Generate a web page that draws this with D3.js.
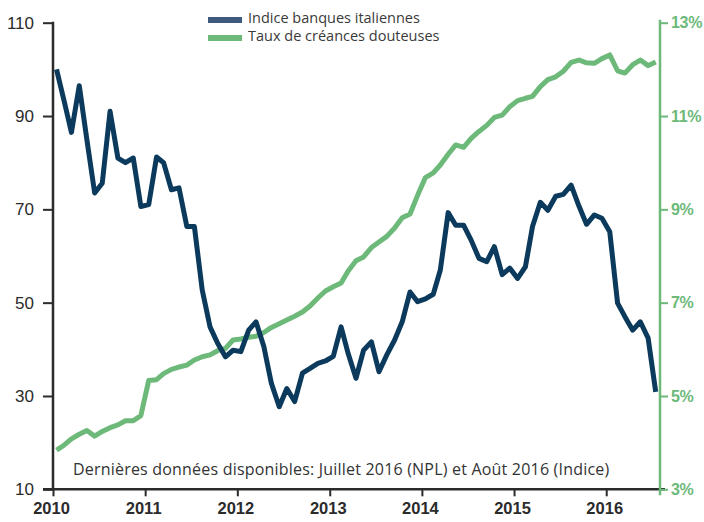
<!DOCTYPE html>
<html>
<head>
<meta charset="utf-8">
<script src="https://cdn.jsdelivr.net/npm/d3@7"></script>
<style>
  body { margin: 0; background: #fff; }
  svg { display: block; font-family: "Open Sans", sans-serif; }
</style>
</head>
<body>
<script>
// donnees (mensuel, janv. 2010 -> juil. 2016)
const startYear = 2010
const yearTicks = [2010, 2011, 2012, 2013, 2014, 2015, 2016]
const indexTicks = [10, 30, 50, 70, 90, 110]
const nplTicks = [3, 5, 7, 9, 11, 13]
const seriesNames = ['Indice banques italiennes', 'Taux de créances douteuses']
const note = 'Dernières données disponibles: Juillet 2016 (NPL) et Août 2016 (Indice)'

// indice banques italiennes
const indice = [
  100, 93, 86.5, 96.5, 85, 73.5, 75.6, 91, 81, 80, 81, 70.6,
  71, 81.2, 80, 74.2, 74.6, 66.3, 66.3, 52.7, 44.8, 41.3, 38.4, 39.8,
  39.5, 44.1, 45.9, 40.6, 32.7, 27.7, 31.6, 28.8, 34.9, 35.9, 37, 37.5,
  38.5, 44.8, 39.1, 33.8, 39.8, 41.6, 35.2, 38.8, 42, 45.9, 52.3, 50.2,
  50.8, 51.8, 57, 69.3, 66.6, 66.6, 63.4, 59.5, 58.8, 62, 56, 57.4,
  55.2, 57.7, 66.3, 71.5, 69.8, 72.8, 73.2, 75.2, 70.7, 66.8, 68.8, 68.1,
  65.2, 49.9, 47, 44.1, 45.9, 42.4, 30.9
]

// taux de creances douteuses (%)
const npl = [
  3.84, 3.95, 4.08, 4.18, 4.26, 4.14, 4.24, 4.32, 4.38, 4.47, 4.47, 4.58,
  5.33, 5.35, 5.48, 5.57, 5.62, 5.66, 5.77, 5.84, 5.88, 5.97, 6.02, 6.2,
  6.22, 6.26, 6.28, 6.36, 6.47, 6.55, 6.63, 6.71, 6.8, 6.93, 7.1, 7.25,
  7.34, 7.42, 7.68, 7.9, 7.98, 8.18, 8.3, 8.42, 8.6, 8.82, 8.9, 9.3,
  9.68, 9.78, 9.95, 10.18, 10.38, 10.33, 10.52, 10.67, 10.8, 10.97, 11.02, 11.2,
  11.33, 11.38, 11.42, 11.63, 11.78, 11.84, 11.96, 12.15, 12.2, 12.14, 12.13, 12.23,
  12.31, 11.97, 11.92, 12.1, 12.2, 12.08, 12.16
]

const WIDTH = 704
const HEIGHT = 522
const BLUE = '#0c3a5c'
const BLUE_KEY = '#3e5a7e'
const GREEN = '#6cb97a'
const DARK = '#2b2b2b'

const svg = d3.select('body').append('svg')
  .attr('width', WIDTH)
  .attr('height', HEIGHT)

const dates = indice.map((d, i) => new Date(startYear, i, 15))

const xScale = d3.scaleTime()
  .domain([new Date(2010, 0, 1), new Date(2016, 7, 1)])
  .range([53, 660])

const yLeft = d3.scaleLinear()
  .domain([10, 110])
  .range([489.3, 22.7])

const yRight = d3.scaleLinear()
  .domain([3, 13])
  .range([489.3, 22.7])

/*
* Axes
*/

const leftAxis = svg.append('g')
  .attr('transform', 'translate(53,0)')
  .call(d3.axisLeft(yLeft).tickValues(indexTicks).tickSize(10).tickPadding(9))
leftAxis.select('.domain').remove()
leftAxis.append('line')
  .attr('x1', 0).attr('x2', 0)
  .attr('y1', yLeft(110) - 1).attr('y2', yLeft(10))
  .attr('stroke', DARK).attr('stroke-width', 2.5)
leftAxis.selectAll('.tick line').attr('stroke', DARK).attr('stroke-width', 2)
leftAxis.selectAll('.tick text')
  .attr('fill', DARK)
  .style('font-size', '17px')

const bottomAxis = svg.append('g')
  .attr('transform', `translate(0,${yLeft(10)})`)
  .call(d3.axisBottom(xScale)
    .tickValues(yearTicks.map(y => new Date(y, 0, 1)))
    .tickFormat(d3.timeFormat('%Y'))
    .tickSize(7)
    .tickPadding(6))
bottomAxis.select('.domain').remove()
bottomAxis.append('line')
  .attr('x1', 43).attr('x2', 665)
  .attr('stroke', DARK).attr('stroke-width', 2.5)
bottomAxis.selectAll('.tick line').attr('stroke', DARK).attr('stroke-width', 2)
bottomAxis.selectAll('.tick text')
  .attr('fill', DARK)
  .attr('dx', '-2')
  .style('font-size', '16.5px')
  .style('font-weight', 'bold')

const rightAxis = svg.append('g')
  .attr('transform', 'translate(660,0)')
  .call(d3.axisRight(yRight)
    .tickValues(nplTicks)
    .tickFormat(d => d + '%')
    .tickSize(8)
    .tickPadding(3))
rightAxis.select('.domain').remove()
rightAxis.append('line')
  .attr('x1', 0).attr('x2', 0)
  .attr('y1', yRight(13) - 3).attr('y2', yRight(3) + 6)
  .attr('stroke', GREEN).attr('stroke-width', 2.5)
rightAxis.selectAll('.tick line').attr('stroke', GREEN).attr('stroke-width', 2)
rightAxis.selectAll('.tick text')
  .attr('fill', GREEN)
  .style('font-size', '16px')
  .style('letter-spacing', '-0.3px')
  .style('font-weight', '600')

/*
* Courbes
*/

const lineIndice = d3.line()
  .x((d, i) => xScale(dates[i]))
  .y(d => yLeft(d))

const lineNpl = d3.line()
  .x((d, i) => xScale(dates[i]))
  .y(d => yRight(d))

svg.append('path')
  .datum(npl)
  .attr('d', lineNpl)
  .attr('fill', 'none')
  .attr('stroke', GREEN)
  .attr('stroke-width', 5)
  .attr('stroke-linejoin', 'round')

svg.append('path')
  .datum(indice)
  .attr('d', lineIndice)
  .attr('fill', 'none')
  .attr('stroke', BLUE)
  .attr('stroke-width', 5)
  .attr('stroke-linejoin', 'round')

/*
* Legende
*/

const legend = svg.append('g').attr('transform', 'translate(208,12)')
const keyColors = [BLUE_KEY, GREEN]
seriesNames.forEach((name, i) => {
  legend.append('rect')
    .attr('x', 0).attr('y', 5 + i * 18)
    .attr('width', 34).attr('height', 6)
    .attr('fill', keyColors[i])
  legend.append('text')
    .attr('x', 40).attr('y', 11 + i * 18)
    .attr('fill', '#3a3a3a')
    .style('font-size', '14.5px')
    .text(name)
})

svg.append('text')
  .attr('x', 73)
  .attr('y', 475)
  .attr('fill', '#333')
  .style('font-size', '16px')
  .style('letter-spacing', '0.2px')
  .text(note)
</script>
</body>
</html>
